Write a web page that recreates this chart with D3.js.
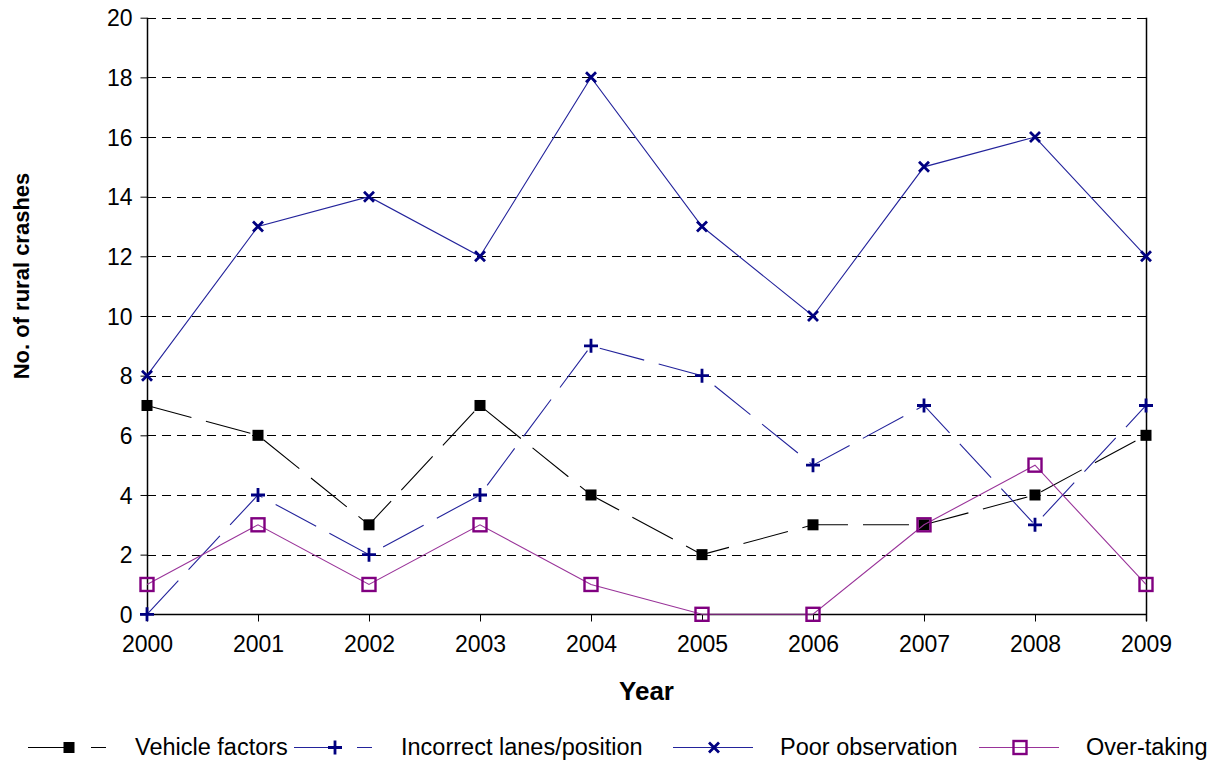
<!DOCTYPE html>
<html>
<head>
<meta charset="utf-8">
<script src="https://cdnjs.cloudflare.com/ajax/libs/d3/7.8.5/d3.min.js"></script>
<style>
  body { margin: 0; background: #fff; }
  svg { display: block; font-family: Arial, "Liberation Sans", sans-serif; }
</style>
</head>
<body>
<svg id="chart" width="1214" height="765"></svg>
<script>
/*************************** Data ***************************/

var years = [2000, 2001, 2002, 2003, 2004, 2005, 2006, 2007, 2008, 2009];
var yTicks = [0, 2, 4, 6, 8, 10, 12, 14, 16, 18, 20];

var vehicle_factors = [7, 6, 3, 7, 4, 2, 3, 3, 4, 6];
var incorrect_lanes = [0, 4, 2, 4, 9, 8, 5, 7, 3, 7];
var poor_observation = [8, 13, 14, 12, 18, 13, 10, 15, 16, 12];
var over_taking = [1, 3, 1, 3, 1, 0, 0, 3, 5, 1];

var seriesNames = ["Vehicle factors", "Incorrect lanes/position", "Poor observation", "Over-taking"];

/*************************** Setup ***************************/

var svg = d3.select("#chart");
var plotLeft = 147, plotRight = 1146, plotTop = 17.7, plotBottom = 614.3;

var x = d3.scalePoint().domain(years).range([plotLeft, plotRight]);
var y = d3.scaleLinear().domain([0, 20]).range([plotBottom, plotTop]);

var series = [
  { name: seriesNames[0], values: vehicle_factors, line: "#000", marker: "#000", dash: "46,15", shape: "square" },
  { name: seriesNames[1], values: incorrect_lanes, line: "#23239b", marker: "#000080", dash: "46,15", shape: "plus" },
  { name: seriesNames[2], values: poor_observation, line: "#23239b", marker: "#000080", dash: null, shape: "cross" },
  { name: seriesNames[3], values: over_taking, line: "#993399", marker: "#800080", dash: null, shape: "open" }
];

/*************************** Grid ***************************/

svg.append("g").selectAll("line").data(yTicks.filter(function(t){ return t > 0; }))
  .enter().append("line")
  .attr("x1", plotLeft).attr("x2", plotRight)
  .attr("y1", function(d){ return Math.round(y(d)) + 0.5; })
  .attr("y2", function(d){ return Math.round(y(d)) + 0.5; })
  .attr("stroke", "#000").attr("stroke-width", 1)
  .attr("stroke-dasharray", "9,6");

/*************************** Axes ***************************/

var xAxis = d3.axisBottom(x).tickSize(7).tickPadding(14).tickFormat(d3.format("d"));
var gx = svg.append("g").attr("transform", "translate(0," + (Math.round(plotBottom) + 0.5) + ")").call(xAxis);

var yAxis = d3.axisLeft(y).tickValues(yTicks).tickSize(7).tickPadding(8);
var gy = svg.append("g").attr("transform", "translate(" + (plotLeft + 0.5) + ",0)").call(yAxis);

[gx, gy].forEach(function(g){
  g.select(".domain").attr("stroke", "#000").attr("stroke-width", 1.5);
  g.selectAll(".tick line").attr("stroke", "#000");
  g.selectAll(".tick text").attr("font-size", 23).attr("fill", "#000")
    .attr("font-family", "Arial, 'Liberation Sans', sans-serif");
});
gx.select(".domain").attr("d", "M" + (plotLeft - 1) + ",0H" + (plotRight + 1));
gy.select(".domain").attr("d", "M0," + plotBottom + "V" + plotTop);
gy.selectAll(".tick text").attr("dy", "0.35em");

// right border
svg.append("line")
  .attr("x1", plotRight + 0.5).attr("x2", plotRight + 0.5)
  .attr("y1", plotTop).attr("y2", plotBottom + 7)
  .attr("stroke", "#000").attr("stroke-width", 1.5);

/*************************** Axis titles ***************************/

svg.append("text").attr("x", (plotLeft + plotRight) / 2).attr("y", 700)
  .attr("text-anchor", "middle").attr("font-size", 26).attr("font-weight", "bold")
  .text("Year");

svg.append("text").attr("transform", "translate(29,276) rotate(-90)")
  .attr("text-anchor", "middle").attr("font-size", 22).attr("font-weight", "bold")
  .text("No. of rural crashes");

/*************************** Markers ***************************/

function drawMarker(g, s, cx, cy){
  if(s.shape == "square"){
    g.append("rect").attr("x", cx - 5.5).attr("y", cy - 5.5).attr("width", 11).attr("height", 11)
      .attr("fill", s.marker);
  } else if(s.shape == "plus"){
    g.append("path").attr("d", "M" + (cx - 7) + "," + cy + "H" + (cx + 7) + "M" + cx + "," + (cy - 7) + "V" + (cy + 7))
      .attr("stroke", s.marker).attr("stroke-width", 2.8).attr("fill", "none");
  } else if(s.shape == "cross"){
    g.append("path").attr("d", "M" + (cx - 5) + "," + (cy - 5) + "L" + (cx + 5) + "," + (cy + 5) + "M" + (cx - 5) + "," + (cy + 5) + "L" + (cx + 5) + "," + (cy - 5))
      .attr("stroke", s.marker).attr("stroke-width", 2.8).attr("fill", "none");
  } else {
    g.append("rect").attr("x", cx - 6.5).attr("y", cy - 6.5).attr("width", 13).attr("height", 13)
      .attr("fill", "none").attr("stroke", s.marker).attr("stroke-width", 2.4);
  }
}

/*************************** Series ***************************/

var line = d3.line().x(function(d, i){ return x(years[i]); }).y(function(d){ return y(d); });

series.forEach(function(s){
  var g = svg.append("g");
  g.append("path").attr("d", line(s.values))
    .attr("fill", "none").attr("stroke", s.line).attr("stroke-width", 1.1)
    .attr("stroke-dasharray", s.dash);
  s.values.forEach(function(v, i){ drawMarker(g, s, x(years[i]), y(v)); });
});

/*************************** Legend ***************************/

var legendX = [28, 294, 673, 979];
var legendY = 747;

series.forEach(function(s, i){
  var g = svg.append("g").attr("transform", "translate(" + legendX[i] + "," + legendY + ")");
  g.append("line").attr("x1", 0).attr("x2", 80).attr("y1", 0.5).attr("y2", 0.5)
    .attr("stroke", s.line).attr("stroke-width", 1.1)
    .attr("stroke-dasharray", s.dash ? "36,27,15,20" : null);
  drawMarker(g, s, 41, 0.5);
  g.append("text").attr("x", 107).attr("y", 0).attr("dy", "0.35em")
    .attr("font-size", 23.5).attr("fill", "#000").text(s.name);
});
</script>
</body>
</html>
